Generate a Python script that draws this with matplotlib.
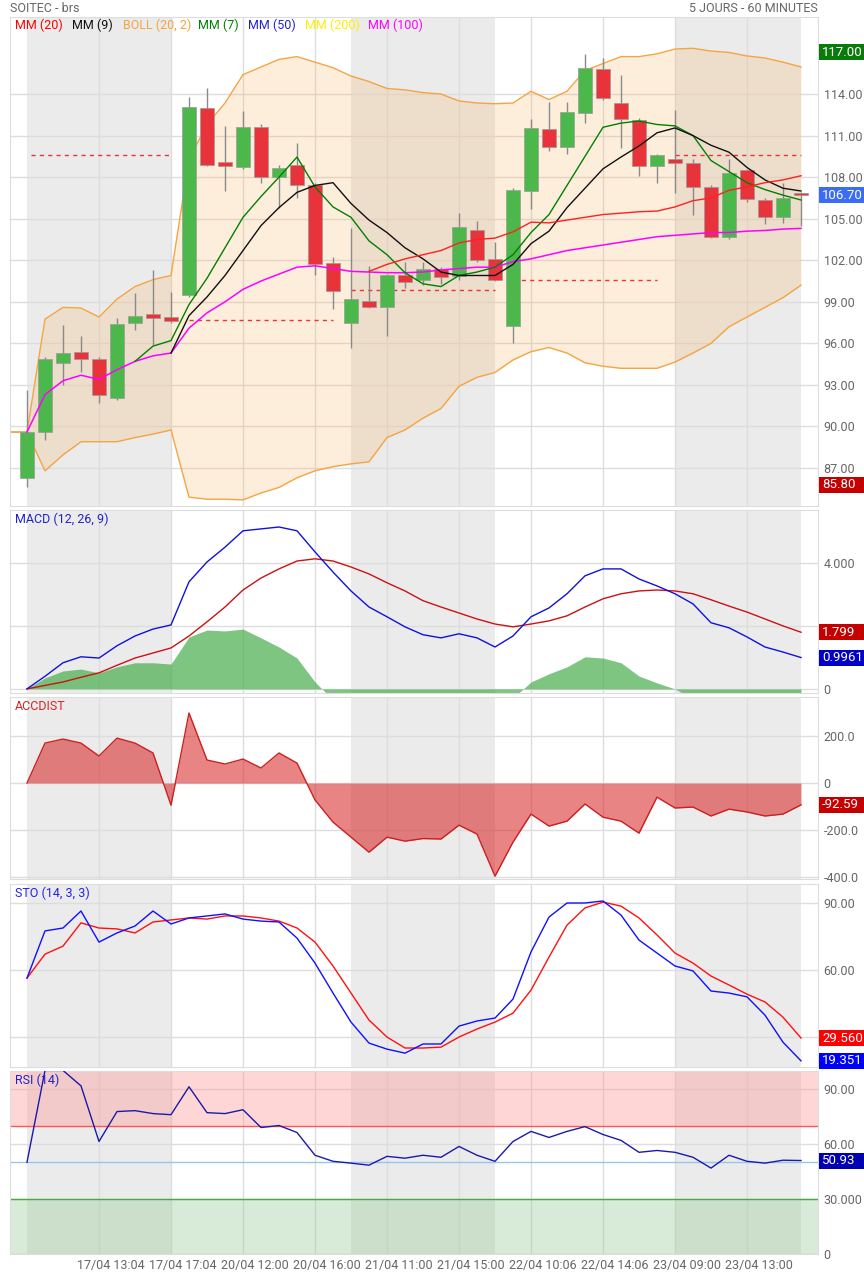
import numpy as np
import matplotlib.pyplot as plt
from matplotlib.patches import Rectangle

plt.rcParams['font.family'] = ['Roboto', 'DejaVu Sans']

# --- data (44 hourly candles) ---
opens = [86.3, 89.6, 94.6, 95.4, 94.9, 92.05, 97.5, 98.1, 97.9, 99.5,
         113.0, 109.1, 108.7, 111.6, 108.0, 108.9, 107.4, 101.8, 97.5, 99.05,
         98.6, 100.9, 100.6, 101.4, 100.85, 104.2, 102.1, 97.25, 107.0, 111.5,
         110.2, 112.6, 115.8, 113.35, 112.1, 108.8, 109.3, 109.0, 107.3, 103.7,
         108.5, 106.35, 105.1, 106.8]
closes = [89.6, 94.9, 95.3, 94.85, 92.3, 97.4, 98.0, 97.8, 97.6, 113.05,
          108.9, 108.8, 111.6, 108.0, 108.65, 107.4, 101.7, 99.8, 99.2, 98.6,
          100.9, 100.4, 101.4, 100.8, 104.4, 102.0, 100.6, 107.1, 111.55, 110.2,
          112.7, 115.9, 113.7, 112.2, 108.8, 109.6, 109.0, 107.3, 103.7, 108.3,
          106.4, 105.15, 106.5, 106.7]
highs = [92.6, 95.0, 97.3, 96.5, 95.0, 97.8, 99.6, 101.3, 99.7, 113.8,
         114.4, 111.7, 112.8, 111.8, 108.9, 110.5, 107.6, 102.2, 104.3, 101.6,
         101.0, 101.9, 101.9, 101.5, 105.4, 104.8, 103.3, 107.2, 112.2, 113.4,
         113.4, 116.9, 116.6, 115.4, 112.3, 109.7, 112.85, 109.3, 107.4, 109.3,
         108.6, 106.5, 107.6, 106.9]
lows = [85.6, 89.0, 93.0, 93.9, 91.7, 91.9, 97.0, 95.9, 97.5, 99.35,
        108.8, 107.0, 108.6, 107.6, 105.8, 106.5, 100.9, 98.5, 95.7, 98.55,
        96.5, 100.0, 100.2, 100.3, 100.6, 101.9, 100.5, 96.0, 105.7, 109.9,
        109.7, 111.9, 113.6, 110.1, 108.1, 107.6, 106.85, 105.3, 103.6, 103.5,
        106.2, 104.6, 104.7, 104.5]

mm100 = [89.6, 92.3, 93.3, 93.7, 93.4, 94.1, 94.7, 95.1, 95.3, 97.1,
         98.2, 99.0, 99.9, 100.5, 101.0, 101.5, 101.6, 101.4, 101.2, 101.15,
         101.1, 101.1, 101.15, 101.3, 101.4, 101.5, 101.5, 101.9, 102.1, 102.4,
         102.7, 102.9, 103.1, 103.3, 103.5, 103.7, 103.8, 103.9, 104.0, 104.0,
         104.1, 104.15, 104.25, 104.3]
mm7 = [94.7, 95.8, 96.2, 98.8, 100.7, 102.9, 105.1, 106.6, 108.0, 109.45,
       107.3, 105.85, 105.1, 103.4, 102.4, 101.1, 100.3, 100.1, 100.9, 101.15,
       101.5, 102.4, 104.0, 105.3, 107.4, 109.5, 111.6, 111.9, 112.05, 111.8,
       111.7, 111.0, 109.2, 108.4, 107.6, 107.1, 106.7, 106.35]  # from candle 7
mm9 = [95.3, 98.0, 99.35, 100.9, 102.7, 104.5, 105.8, 106.9, 107.4, 107.6,
       106.1, 104.9, 104.0, 102.9, 102.1, 101.15, 100.9, 100.9, 100.9, 101.7,
       103.2, 104.1, 105.8, 107.2, 108.6, 109.45, 110.25, 111.2, 111.55, 111.0,
       110.3, 109.8, 108.7, 107.8, 107.2, 107.0]  # from candle 9
mm20 = [101.2, 101.7, 102.1, 102.4, 102.7, 103.25, 103.5, 103.6, 104.05, 104.75,
        104.7, 104.9, 105.1, 105.3, 105.4, 105.5, 105.55, 105.85, 106.3, 106.5,
        107.05, 107.3, 107.6, 107.8, 108.1]  # from candle 20
boll_up = [89.6, 97.75, 98.6, 98.55, 97.9, 99.2, 100.1, 100.6, 100.9, 109.3,
           111.8, 113.35, 115.4, 115.95, 116.5, 116.7, 116.3, 115.9, 115.3, 114.9,
           114.4, 114.3, 114.1, 114.0, 113.5, 113.35, 113.3, 113.35, 114.2, 113.6,
           114.2, 115.7, 116.2, 116.7, 116.7, 116.9, 117.25, 117.3, 117.1, 117.0,
           116.75, 116.6, 116.3, 115.95]
boll_dn = [89.6, 86.8, 87.95, 88.9, 88.9, 88.9, 89.2, 89.45, 89.75, 84.9,
           84.75, 84.75, 84.7, 85.2, 85.6, 86.3, 86.8, 87.1, 87.3, 87.45,
           89.2, 89.75, 90.6, 91.3, 92.9, 93.55, 93.9, 94.8, 95.4, 95.7,
           95.3, 94.6, 94.35, 94.2, 94.2, 94.2, 94.65, 95.3, 96.0, 97.2,
           97.9, 98.6, 99.3, 100.2]
pivot_days = [(0.2, 8.05, 109.6), (9, 17, 97.66), (18, 26, 99.83), (27, 35, 100.57), (36, 43, 109.6)]

macd = [0, 0.4, 0.83, 1.02, 0.98, 1.37, 1.68, 1.9, 2.03, 3.4,
        4.03, 4.5, 5.02, 5.08, 5.14, 5.02, 4.35, 3.71, 3.11, 2.6,
        2.29, 1.97, 1.72, 1.62, 1.75, 1.62, 1.33, 1.68, 2.29, 2.57,
        3.02, 3.59, 3.81, 3.81, 3.49, 3.27, 3.02, 2.7, 2.1, 1.94,
        1.65, 1.33, 1.17, 0.9961]
signal = [0, 0.11, 0.22, 0.37, 0.51, 0.75, 0.98, 1.14, 1.3, 1.68,
          2.13, 2.6, 3.14, 3.52, 3.81, 4.06, 4.13, 4.06, 3.87, 3.65,
          3.37, 3.11, 2.8, 2.6, 2.41, 2.22, 2.06, 1.97, 2.06, 2.16,
          2.32, 2.6, 2.86, 3.02, 3.11, 3.14, 3.11, 3.02, 2.83, 2.63,
          2.44, 2.22, 2.0, 1.799]
hist = [0, 0.35, 0.57, 0.63, 0.51, 0.7, 0.83, 0.83, 0.79, 1.65,
        1.87, 1.84, 1.9, 1.62, 1.33, 0.98, 0.22, -0.35, -0.76, -1.05,
        -1.08, -1.14, -1.08, -0.98, -0.66, -0.6, -0.73, -0.29, 0.22, 0.48,
        0.7, 1.02, 0.98, 0.83, 0.41, 0.19, 0.0, -0.32, -0.73, -0.69,
        -0.79, -0.89, -0.83, -0.83]
accdist = [0, 170, 187, 170, 115, 191, 170, 128, -94, 298,
           98, 81, 102, 64, 128, 85, -72, -166, -230, -294,
           -230, -247, -236, -238, -179, -217, -396, -251, -132, -183,
           -162, -89, -145, -162, -213, -60, -106, -102, -140, -111,
           -123, -140, -132, -92.59]
sto_k = [56.4, 77.5, 78.8, 86.4, 72.5, 76.6, 79.7, 86.4, 80.6, 83.3,
         84.2, 85.1, 82.8, 81.9, 81.5, 74.3, 63.1, 49.7, 36.7, 27.3,
         24.6, 22.8, 26.9, 26.9, 34.9, 37.2, 38.5, 47.0, 68.1, 83.7,
         90, 90, 90.9, 84.6, 73.4, 67.6, 61.8, 59.6, 50.6, 49.7,
         48.0, 39.8, 27.7, 19.351]
sto_d = [56.4, 67.1, 70.7, 81.1, 78.8, 78.4, 76.6, 81.5, 82.4, 83.3,
         82.8, 84.2, 84.2, 83.3, 81.9, 78.8, 72.5, 61.8, 49.7, 37.6,
         30.0, 25.1, 25.1, 25.5, 30.0, 33.6, 36.7, 40.7, 51.0, 65.8,
         80.1, 87.8, 90.4, 88.6, 83.3, 75.7, 67.6, 63.1, 57.3, 53.3,
         49.2, 45.7, 38.9, 29.56]
rsi = [50, 100, 100, 91.6, 61.3, 77.6, 78.1, 76.5, 75.9, 91.1,
       77.0, 76.5, 78.6, 68.9, 70.0, 66.2, 53.8, 50.5, 49.5, 48.4,
       53.2, 52.2, 53.8, 52.7, 58.6, 53.8, 50.5, 61.3, 66.8, 63.5,
       66.8, 69.4, 65.1, 61.9, 55.4, 56.4, 55.4, 52.7, 46.8, 53.8,
       50.5, 49.5, 51.1, 50.93]
xlabels = ["17/04 13:04", "17/04 17:04", "20/04 12:00", "20/04 16:00", "21/04 11:00",
           "21/04 15:00", "22/04 10:06", "22/04 14:06", "23/04 09:00", "23/04 13:00"]

n = len(closes)
x = np.arange(n)
W, H = 864, 1275
fig = plt.figure(figsize=(W / 100, H / 100), dpi=100)

GRID = '#dddddd'
TXT = '#666666'
XMIN, XMAX = (10 - 27) / 18, (818 - 27) / 18


def panel(top, bottom, ylim):
    ax = fig.add_axes([10 / W, 1 - bottom / H, 808 / W, (bottom - top) / H])
    ax.set_xlim(XMIN, XMAX)
    ax.set_ylim(*ylim)
    for s in ax.spines.values():
        s.set_color(GRID)
    for a, b in [(0, 8), (18, 26), (36, 43)]:
        ax.axvspan(a, b, color='#ebebeb', zorder=0, lw=0)
    for k in range(4, 44, 4):
        ax.axvline(k, color=GRID, lw=1, zorder=0.5)
    ax.set_xticks([])
    ax.yaxis.tick_right()
    ax.tick_params(axis='y', length=0, labelsize=9, labelcolor=TXT, pad=4)
    ax.grid(axis='y', color=GRID, lw=1, zorder=0.5)
    ax.set_axisbelow(True)
    return ax


def tag(ax, y, s, bg):
    # coloured last-value box filling the right margin
    _, py = ax.transData.transform((0, y))
    fy = py / (H)
    fig.patches.append(Rectangle((819 / W, fy - 8 / H), 45 / W, 16 / H,
                                 transform=fig.transFigure, fc=bg, ec='none', zorder=10))
    fig.text(822 / W, fy, s, color='white', ha='left', va='center', fontsize=9.5, zorder=11)


def ftext(px, py, s, c, **kw):
    fig.text(px / W, 1 - py / H, s, color=c, va='center', ha='left', fontsize=9, **kw)


# --- price panel ---
ax = panel(17, 506, (84.26, 119.56))
ax.set_yticks([87, 90, 93, 96, 99, 102, 105, 108, 111, 114])
ax.set_yticklabels([f"{v:.2f}" for v in [87, 90, 93, 96, 99, 102, 105, 108, 111, 114]])
bx = np.concatenate([[XMIN], x])
bu = np.concatenate([[boll_up[0]], boll_up])
bd = np.concatenate([[boll_dn[0]], boll_dn])
ax.fill_between(bx, bd, bu, color='#f9a13a', alpha=0.18, lw=0, zorder=1)
ax.plot(bx, bu, color='#f5a442', lw=1, zorder=2)
ax.plot(bx, bd, color='#f5a442', lw=1, zorder=2)
for a, b, v in pivot_days:
    ax.hlines(v, a, b, colors='#e33', linestyles=(0, (3, 3)), lw=1, zorder=2)
o, c, h, l = map(np.array, (opens, closes, highs, lows))
ax.vlines(x, l, h, color='#8a8a8a', lw=1, zorder=3)
col = np.where(c >= o, '#4cb84c', '#e8333a')
ax.bar(x, np.maximum(np.abs(c - o), 0.15), bottom=np.minimum(o, c), width=0.78,
       color=col, edgecolor='#9a9a9a', lw=0.5, zorder=4)
ax.plot(x, mm100, color='#ff00ff', lw=1.1, zorder=5)
ax.plot(x[6:], mm7, color='#008000', lw=1, zorder=5)
ax.plot(x[8:], mm9, color='#111111', lw=1, zorder=5)
ax.plot(x[19:], mm20, color='#ff2020', lw=1, zorder=5)
price_ax = ax

leg = [(15, "MM (20)", '#ff0000'), (72, "MM (9)", '#111111'), (123, "BOLL (20, 2)", '#f5a442'),
       (198, "MM (7)", '#008000'), (248, "MM (50)", '#2222dd'), (305, "MM (200)", '#ffee00'),
       (368, "MM (100)", '#ff00ff')]
for px, s, cc in leg:
    ftext(px, 25, s, cc)
ftext(10, 9, "SOITEC - brs", TXT)
fig.text(818 / W, 1 - 9 / H, "5 JOURS - 60 MINUTES", color=TXT, va='center', ha='right', fontsize=9)

# --- MACD ---
ax = panel(510, 693, (-0.13, 5.68))
ax.set_yticks([0, 2, 4])
ax.set_yticklabels(["0", "", "4.000"])
ax.fill_between(x, 0, hist, color='#4caf50', alpha=0.72, lw=0, zorder=1)
ax.plot(x, signal, color='#cc1111', lw=1, zorder=3)
ax.plot(x, macd, color='#1111dd', lw=1, zorder=3)
macd_ax = ax
ftext(15, 519, "MACD (12, 26, 9)", '#2222cc')

# --- ACCDIST ---
ax = panel(697, 879, (-408, 366))
ax.set_yticks([-400, -200, 0, 200])
ax.set_yticklabels(["-400.0", "-200.0", "0", "200.0"])
ax.fill_between(x, 0, accdist, color='#d62020', alpha=0.55, lw=0, zorder=1)
ax.plot(x, accdist, color='#cc1f1f', lw=1, zorder=3)
acc_ax = ax
ftext(15, 706, "ACCDIST", '#dd2222')

# --- STO ---
ax = panel(884, 1067, (16.6, 98.5))
ax.set_yticks([30, 60, 90])
ax.set_yticklabels(["", "60.00", "90.00"])
ax.plot(x, sto_d, color='#ff1010', lw=1, zorder=3)
ax.plot(x, sto_k, color='#1010ff', lw=1, zorder=3)
sto_ax = ax
ftext(15, 893, "STO (14, 3, 3)", '#2222ee')

# --- RSI ---
ax = panel(1071, 1254, (0.8, 99.7))
ax.set_yticks([0, 30, 60, 90])
ax.set_yticklabels(["0", "30.000", "60.00", "90.00"])
ax.axhspan(70, 100, color='#ff9999', alpha=0.4, lw=0, zorder=0.6)
ax.axhspan(0, 30, color='#99cc99', alpha=0.38, lw=0, zorder=0.6)
ax.axhline(70, color='#ff5555', lw=1, zorder=2)
ax.axhline(30, color='#44aa44', lw=1, zorder=2)
ax.axhline(50, color='#99c4ee', lw=1, zorder=2)
ax.plot(x, rsi, color='#1a1aaa', lw=1, zorder=3)
rsi_ax = ax
ftext(15, 1080, "RSI (14)", '#2222cc')
for i, s in enumerate(xlabels):
    k = 4 * (i + 1) + 0.67
    fig.text((27 + 18 * k) / W, 1 - 1265 / H, s, color=TXT, ha='center', va='center', fontsize=9)

tag(price_ax, 117.0, "117.00", '#0a7a0a')
tag(price_ax, 106.7, "106.70", '#3b6cf5')
tag(price_ax, 85.8, "85.80", '#c40000')
tag(macd_ax, 1.799, "1.799", '#c40000')
tag(macd_ax, 0.9961, "0.9961", '#0000c8')
tag(acc_ax, -92.59, "-92.59", '#c40000')
tag(sto_ax, 29.56, "29.560", '#ff0000')
tag(sto_ax, 19.351, "19.351", '#0000ff')
tag(rsi_ax, 50.93, "50.93", '#0000b0')

fig.savefig("out.png", dpi=100, facecolor='white')
